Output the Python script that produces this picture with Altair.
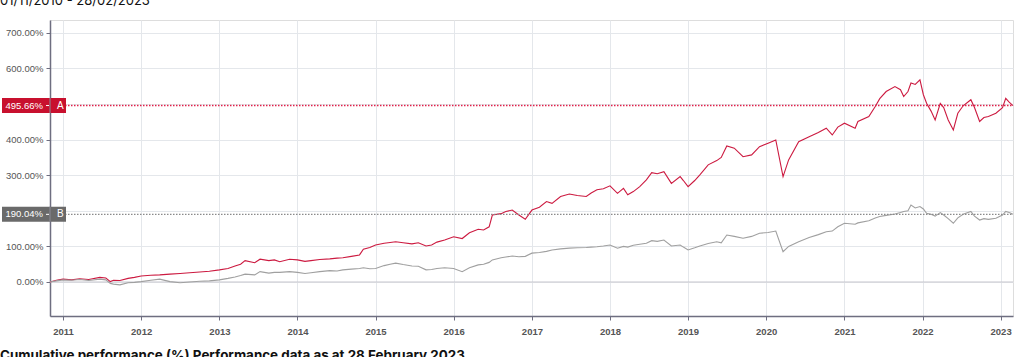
import altair as alt
import pandas as pd

dates = [
    "2010-11-01", "2010-12-01", "2011-01-01", "2011-02-10", "2011-03-20", "2011-05-01", "2011-06-22",
    "2011-07-20", "2011-08-10", "2011-08-25", "2011-09-24", "2011-11-01", "2011-12-01", "2012-01-01",
    "2012-02-15", "2012-03-28", "2012-05-15", "2012-07-01", "2012-08-15", "2012-10-01", "2012-11-15",
    "2013-01-01", "2013-02-10", "2013-03-15", "2013-04-10", "2013-05-01", "2013-06-15", "2013-07-10",
    "2013-08-20", "2013-09-15", "2013-10-10", "2013-11-25", "2014-01-01", "2014-02-05", "2014-03-05",
    "2014-04-15", "2014-06-01", "2014-07-05", "2014-08-01", "2014-09-10", "2014-10-18", "2014-11-05",
    "2014-12-05", "2015-01-01", "2015-02-10", "2015-03-10", "2015-04-05", "2015-05-10", "2015-06-20",
    "2015-07-20", "2015-08-25", "2015-09-20", "2015-10-15", "2015-11-20", "2016-01-01", "2016-02-10",
    "2016-03-15", "2016-04-25", "2016-05-20", "2016-06-15", "2016-06-30", "2016-08-10", "2016-09-01",
    "2016-10-01", "2016-11-01", "2016-12-01", "2017-01-01", "2017-02-05", "2017-03-10", "2017-04-05",
    "2017-05-15", "2017-06-25", "2017-08-01", "2017-09-12", "2017-10-05", "2017-11-01", "2017-12-01",
    "2018-01-01", "2018-02-05", "2018-03-05", "2018-03-25", "2018-04-20", "2018-05-20", "2018-06-20",
    "2018-07-15", "2018-08-10", "2018-09-10", "2018-10-15", "2018-11-25", "2018-12-10", "2019-01-01",
    "2019-02-01", "2019-02-25", "2019-04-05", "2019-05-15", "2019-06-05", "2019-07-01", "2019-08-05",
    "2019-09-15", "2019-10-25", "2019-12-01", "2020-01-10", "2020-02-15", "2020-03-20", "2020-04-15",
    "2020-06-01", "2020-07-20", "2020-09-01", "2020-10-08", "2020-11-05", "2020-12-01", "2021-01-01",
    "2021-02-20", "2021-03-05", "2021-04-25", "2021-05-25", "2021-06-15", "2021-07-15", "2021-08-25",
    "2021-09-20", "2021-10-05", "2021-10-25", "2021-11-08", "2021-11-28", "2021-12-20", "2022-01-05",
    "2022-01-20", "2022-02-10", "2022-03-01", "2022-03-25", "2022-04-10", "2022-05-01", "2022-05-25",
    "2022-06-15", "2022-07-10", "2022-08-15", "2022-09-01", "2022-09-25", "2022-10-15", "2022-11-05",
    "2022-12-10", "2023-01-10", "2023-01-25", "2023-02-10", "2023-02-28",
]
series_a = [
    0, 5, 8, 6, 9, 7, 13,
    11, 1, 5, 4, 10, 13, 17,
    19, 20, 22, 24, 26, 28, 30,
    34, 38, 45, 50, 60, 54, 64,
    60, 62, 57, 64, 62, 58, 60,
    63, 65, 67, 68, 72, 76, 92,
    97, 104, 109, 111, 113, 110, 107,
    110, 101, 104, 112, 118, 127, 122,
    138, 148, 146, 155, 188, 192, 198,
    202, 188, 176, 202, 210, 226, 221,
    240, 247, 243, 240, 250, 259, 262,
    270, 249, 263, 245, 254, 268, 287,
    307, 304, 310, 277, 296, 285, 268,
    285, 301, 329, 341, 350, 382, 376,
    352, 357, 380, 390, 399, 296, 343,
    394, 408, 420, 432, 413, 435, 446,
    432, 451, 465, 493, 515, 535, 549,
    540, 521, 535, 559, 555, 568, 526,
    502, 480, 455, 502, 490, 455, 427,
    474, 495, 512, 490, 451, 462, 465,
    474, 490, 516, 505, 495.66,
]
series_b = [
    0, 3, 6, 5, 7, 4, 8,
    6, -4, -6, -8, -2, -1, 1,
    5, 8, 1, -2, 0, 2, 3,
    6, 10, 14, 18, 22, 20, 29,
    25, 27, 27, 29, 27, 24, 26,
    29, 32, 31, 34, 36, 38, 40,
    37, 38, 46, 50, 53, 49, 45,
    44, 34, 35, 38, 40, 38, 29,
    40, 48, 50, 55, 62, 68, 70,
    73, 71, 72, 81, 83, 86, 90,
    93, 95, 96, 97, 98, 99, 101,
    104, 95, 100, 98, 103, 106, 109,
    116, 114, 118, 101, 104, 98, 90,
    96, 101, 108, 113, 110, 132, 128,
    123, 128, 137, 139, 143, 85, 100,
    113, 125, 133, 141, 143, 155, 165,
    162, 166, 172, 180, 184, 187, 191,
    195, 198, 200, 216, 208, 212, 205,
    193, 190, 185, 195, 188, 178, 165,
    180, 190, 198, 185, 174, 178, 176,
    179, 188, 198, 195, 190.04,
]
names = ["A", "B"]
finals = [495.66, 190.04]
label_texts = ["495.66%", "190.04%"]
y_ticks = [0, 100, 200, 300, 400, 500, 600, 700]
hidden_ticks = [200, 500]
title_top = "01/11/2010 - 28/02/2023"
title_bottom = "Cumulative performance (%) Performance data as at 28 February 2023"

line_colors = ["#cc1a40", "#a0a0a0"]
box_colors = ["#c8102e", "#6a6a6a"]
dot_colors = ["#e0204a", "#8a8a8a"]

rows = []
for d, a, b in zip(dates, series_a, series_b):
    rows.append({"date": d, "value": a, "series": "A"})
    rows.append({"date": d, "value": b, "series": "B"})
df = pd.DataFrame(rows)
lab = pd.DataFrame({"series": names, "value": finals, "label": label_texts})

xscale = alt.Scale(domain=["2010-11-01", "2023-02-28"])
yscale = alt.Scale(domain=[-95.6, 736], nice=False, zero=False)

hide_expr = " || ".join(f"datum.value == {v}" for v in hidden_ticks)

x_enc = alt.X("date:T", scale=xscale, title=None,
              axis=alt.Axis(tickCount={"interval": "year", "step": 1}, format="%Y",
                            grid=True, gridColor="#e4e7eb", gridWidth=1,
                            domainColor="#6e6e80", domainWidth=1.5,
                            tickColor="#6e6e80", tickSize=4,
                            labelFont="Liberation Sans", labelFontSize=9.5, labelFontWeight="bold",
                            labelColor="#555555", labelPadding=6))
y_enc = alt.Y("value:Q", scale=yscale, title=None,
              axis=alt.Axis(values=y_ticks,
                            labelExpr=f"({hide_expr}) ? '' : format(datum.value, '.2f') + '%'",
                            grid=True, gridColor="#e4e7eb", gridWidth=1,
                            domainColor="#6e6e80", domainWidth=1.5,
                            tickColor="#6e6e80", tickSize=4,
                            labelFont="Liberation Sans", labelFontSize=9.5,
                            labelColor="#555555", labelPadding=3))

lines = alt.Chart(df).mark_line(strokeWidth=1.1).encode(
    x=x_enc, y=y_enc,
    color=alt.Color("series:N", scale=alt.Scale(domain=names, range=line_colors), legend=None),
)

zero = alt.Chart(pd.DataFrame({"v": [0]})).mark_rule(color="#c9c9d0", strokeWidth=1).encode(
    y=alt.Y("v:Q", scale=yscale), x=alt.value(0), x2=alt.value(963))

dot_a = alt.Chart(lab).transform_filter("datum.series == 'A'").mark_rule(
    strokeWidth=1.4, strokeDash=[1.5, 1.5], color=dot_colors[0]).encode(
    y=alt.Y("value:Q", scale=yscale), x=alt.value(0), x2=alt.value(963))
dot_b = alt.Chart(lab).transform_filter("datum.series == 'B'").mark_rule(
    strokeWidth=1.2, strokeDash=[1.5, 1.5], color=dot_colors[1]).encode(
    y=alt.Y("value:Q", scale=yscale), x=alt.value(0), x2=alt.value(963))

box_a = alt.Chart(lab).transform_filter("datum.series == 'A'").mark_rule(
    strokeWidth=15, strokeCap="butt", color=box_colors[0]).encode(
    y=alt.Y("value:Q", scale=yscale), x=alt.value(-48), x2=alt.value(16))
box_b = alt.Chart(lab).transform_filter("datum.series == 'B'").mark_rule(
    strokeWidth=15, strokeCap="butt", color=box_colors[1]).encode(
    y=alt.Y("value:Q", scale=yscale), x=alt.value(-48), x2=alt.value(16))

box_text = alt.Chart(lab).mark_text(align="right", baseline="middle", color="white",
                                    font="Liberation Sans", fontSize=9.5).encode(
    y=alt.Y("value:Q", scale=yscale), x=alt.value(-7), text="label:N")

box_tick = alt.Chart(lab).mark_rule(color="white", strokeWidth=1).encode(
    y=alt.Y("value:Q", scale=yscale), x=alt.value(-4), x2=alt.value(-1))

box_div = alt.Chart(lab).mark_tick(color="#8a8a96", thickness=1.5, size=15,
                                   orient="vertical").encode(
    y=alt.Y("value:Q", scale=yscale), x=alt.value(0))

box_name = alt.Chart(lab).mark_text(align="left", baseline="middle", color="white",
                                    font="Liberation Sans", fontSize=10).encode(
    y=alt.Y("value:Q", scale=yscale), x=alt.value(7), text="series:N")

top_title = alt.Chart(pd.DataFrame({"t": [title_top]})).mark_text(
    align="left", baseline="alphabetic", font="Inter", fontSize=13, color="#111111").encode(
    x=alt.value(-50), y=alt.value(-15), text="t:N")

bottom_title = alt.Chart(pd.DataFrame({"t": [title_bottom]})).mark_text(
    align="left", baseline="top", font="Inter", fontSize=13.4, fontWeight="bold",
    color="#111111").encode(
    x=alt.value(-50), y=alt.value(329), text="t:N")

chart = alt.layer(zero, lines, dot_a, dot_b, box_a, box_b, box_div, box_tick, box_text,
                  box_name, top_title, bottom_title).properties(
    width=963, height=296,
    autosize=alt.AutoSizeParams(type="none"),
    padding={"left": 50, "top": 20, "right": 11, "bottom": 41},
).configure_view(stroke=None).configure(background="white")

chart.save("out.html", embed_options={"renderer": "svg", "actions": False})
